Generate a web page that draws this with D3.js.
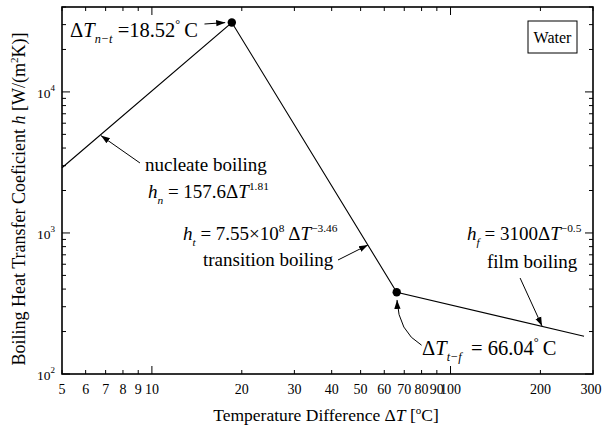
<!DOCTYPE html>
<html>
<head>
<meta charset="utf-8">
<script src="https://cdn.jsdelivr.net/npm/d3@7"></script>
<style>
  body { margin: 0; background: #fff; }
</style>
</head>
<body>
<script>
// curve break points (straight segments on log-log axes)
var deltaT = [5, 18.52, 66.04, 280];
var hValues = [2900, 31050, 380, 185];
var markerIdx = [1, 2];

var xTicks = [5, 6, 7, 8, 9, 10, 20, 30, 40, 50, 60, 70, 80, 90, 100, 200, 300];
var xMajor = [10, 100];
var yMinor = [200, 300, 400, 500, 600, 700, 800, 900, 2000, 3000, 4000, 5000, 6000, 7000, 8000, 9000, 20000, 30000, 40000];
var yMajor = [100, 1000, 10000];

var W = 602, H = 432;
var margin = { left: 62, right: 9, top: 7, bottom: 58 };
var w = W - margin.left - margin.right, h = H - margin.top - margin.bottom;

var svg = d3.select('body')
    .append("svg")
    .attr('width', W)
    .attr('height', H)
    .attr('font-family', "'Liberation Serif', 'Times New Roman', 'DejaVu Serif', serif");

var g = svg.append('g').attr('transform', 'translate(' + margin.left + ',' + margin.top + ')');

var x = d3.scaleLog().domain([5, 300]).range([0, w]);
var y = d3.scaleLog().domain([100, 40000]).range([h, 0]);

// ticks on all four sides, pointing inward
function ticksX(yPos, dir) {
    xTicks.forEach(function(v) {
        var len = xMajor.indexOf(v) >= 0 ? 8 : 4;
        g.append('line')
            .attr('x1', x(v)).attr('x2', x(v))
            .attr('y1', yPos).attr('y2', yPos + dir * len)
            .attr('stroke', '#000').attr('stroke-width', 1);
    });
}
function ticksY(xPos, dir) {
    yMajor.concat(yMinor).forEach(function(v) {
        var len = yMajor.indexOf(v) >= 0 ? 8 : 4;
        g.append('line')
            .attr('x1', xPos).attr('x2', xPos + dir * len)
            .attr('y1', y(v)).attr('y2', y(v))
            .attr('stroke', '#000').attr('stroke-width', 1);
    });
}
ticksX(h, -1);
ticksX(0, 1);
ticksY(0, 1);
ticksY(w, -1);

g.append('rect')
    .attr('width', w).attr('height', h)
    .attr('fill', 'none').attr('stroke', '#000').attr('stroke-width', 1.6);

// tick labels (last one nudged so it stays inside the window)
g.selectAll('.xl').data(xTicks).enter().append('text')
    .attr('x', function(d) { return x(d) - (d === 300 ? 2 : 0); })
    .attr('y', h + 20)
    .attr('text-anchor', 'middle')
    .style('font-size', '14px')
    .text(function(d) { return d; });

yMajor.forEach(function(v) {
    var t = g.append('text')
        .attr('x', -7).attr('y', y(v) + 6)
        .attr('text-anchor', 'end')
        .style('font-size', '13.5px');
    t.append('tspan').text('10');
    t.append('tspan').attr('dy', -7).style('font-size', '9px').text(Math.round(Math.log10(v)));
});

// axis titles
var xt = svg.append('text')
    .attr('x', 326).attr('y', 421)
    .attr('text-anchor', 'middle')
    .style('font-size', '17.5px');
xt.append('tspan').text('Temperature Difference \u0394');
xt.append('tspan').style('font-style', 'italic').text('T');
xt.append('tspan').text(' [');
xt.append('tspan').attr('dy', -7).style('font-size', '11px').text('o');
xt.append('tspan').attr('dy', 7).text('C]');

var yt = svg.append('text')
    .attr('transform', 'translate(25,199) rotate(-90)')
    .attr('text-anchor', 'middle')
    .style('font-size', '18px');
yt.append('tspan').text('Boiling Heat Transfer Coeficient ');
yt.append('tspan').style('font-style', 'italic').text('h');
yt.append('tspan').text(' [W/(m');
yt.append('tspan').attr('dy', -7).style('font-size', '11px').text('2');
yt.append('tspan').attr('dy', 7).text('K)]');

// the curve
var pts = deltaT.map(function(d, i) { return [d, hValues[i]]; });
var line = d3.line()
    .x(function(d) { return x(d[0]); })
    .y(function(d) { return y(d[1]); });

g.append('path')
    .datum(pts)
    .attr('d', line)
    .attr('fill', 'none')
    .attr('stroke', '#000')
    .attr('stroke-width', 1.1);

g.selectAll('.dot').data(markerIdx).enter().append('circle')
    .attr('cx', function(i) { return x(deltaT[i]); })
    .attr('cy', function(i) { return y(hValues[i]); })
    .attr('r', 4.2)
    .attr('fill', '#000');

// arrows
svg.append('defs').append('marker')
    .attr('id', 'arr')
    .attr('viewBox', '0 0 10 10')
    .attr('refX', 10).attr('refY', 5)
    .attr('markerWidth', 9).attr('markerHeight', 9)
    .attr('markerUnits', 'userSpaceOnUse')
    .attr('orient', 'auto')
    .append('path')
    .attr('d', 'M0,1.5 L10,5 L0,8.5 Z')
    .attr('fill', '#000');

var arrows = [
    [[15, 30300], [17.6, 31000]],
    [[9.12, 3135], [6.75, 4900]],
    [[42, 643], [52.9, 822]],
    [[171, 479], [202.5, 219]]
];
arrows.forEach(function(a) {
    g.append('line')
        .attr('x1', x(a[0][0])).attr('y1', y(a[0][1]))
        .attr('x2', x(a[1][0])).attr('y2', y(a[1][1]))
        .attr('stroke', '#000').attr('stroke-width', 1)
        .attr('marker-end', 'url(#arr)');
});
// curved arrow to the transition/film point
var c0 = [80, 160], c1 = [66.9, 200], c2 = [66.2, 335];
g.append('path')
    .attr('d', 'M' + x(c0[0]) + ',' + y(c0[1]) + ' Q' + x(c1[0]) + ',' + y(c1[1]) + ' ' + x(c2[0]) + ',' + y(c2[1]))
    .attr('fill', 'none').attr('stroke', '#000').attr('stroke-width', 1)
    .attr('marker-end', 'url(#arr)');

// annotation text
function rich(pos, parts, size) {
    var t = g.append('text')
        .attr('x', x(pos[0])).attr('y', y(pos[1]))
        .style('font-size', size + 'px');
    var shift = 0;
    parts.forEach(function(p) {
        var target = p.sub ? size * 0.3 : (p.sup ? -size * 0.42 : 0);
        var s = t.append('tspan').text(p.t).attr('dy', target - shift);
        shift = target;
        if (p.i) s.style('font-style', 'italic');
        if (p.sub || p.sup) s.style('font-size', (size * 0.6) + 'px');
    });
    return t;
}

var fs = 19, fsBig = 20.5;
rich([5.32, 24550], [
    { t: '\u0394' }, { t: 'T', i: 1 }, { t: 'n\u2212t', i: 1, sub: 1 }, { t: ' =18.52' }, { t: '\u00b0', sup: 1 }, { t: '\u2009C' }
], fsBig);
rich([9.48, 2753], [{ t: 'nucleate boiling' }], fs);
rich([9.7, 1771], [
    { t: 'h', i: 1 }, { t: 'n', i: 1, sub: 1 }, { t: ' = 157.6\u0394' }, { t: 'T', i: 1 }, { t: '1.81', sup: 1 }
], fs);
rich([12.71, 892], [
    { t: 'h', i: 1 }, { t: 't', i: 1, sub: 1 }, { t: ' = 7.55\u00d710' }, { t: '8', sup: 1 }, { t: '\u2009\u0394' }, { t: 'T', i: 1 }, { t: '\u22123.46', sup: 1 }
], fs);
rich([14.83, 583], [{ t: 'transition boiling' }], fs);
rich([113.6, 892], [
    { t: 'h', i: 1 }, { t: 'f', i: 1, sub: 1 }, { t: ' = 3100\u0394' }, { t: 'T', i: 1 }, { t: '\u22120.5', sup: 1 }
], fs);
rich([132.5, 565], [{ t: 'film boiling' }], fs);
rich([80.3, 136.4], [
    { t: '\u0394' }, { t: 'T', i: 1 }, { t: 't\u2212f', i: 1, sub: 1 }, { t: '\u2009 = 66.04' }, { t: '\u00b0', sup: 1 }, { t: '\u2009C' }
], fsBig);

// "Water" label box, top right
var wb = g.append('g').attr('transform', 'translate(' + (w - 65) + ',14)');
wb.append('rect').attr('width', 49).attr('height', 32)
    .attr('fill', 'none').attr('stroke', '#000').attr('stroke-width', 1);
wb.append('text').attr('x', 24.5).attr('y', 21.5)
    .attr('text-anchor', 'middle')
    .style('font-size', '16px')
    .text('Water');
</script>
</body>
</html>
